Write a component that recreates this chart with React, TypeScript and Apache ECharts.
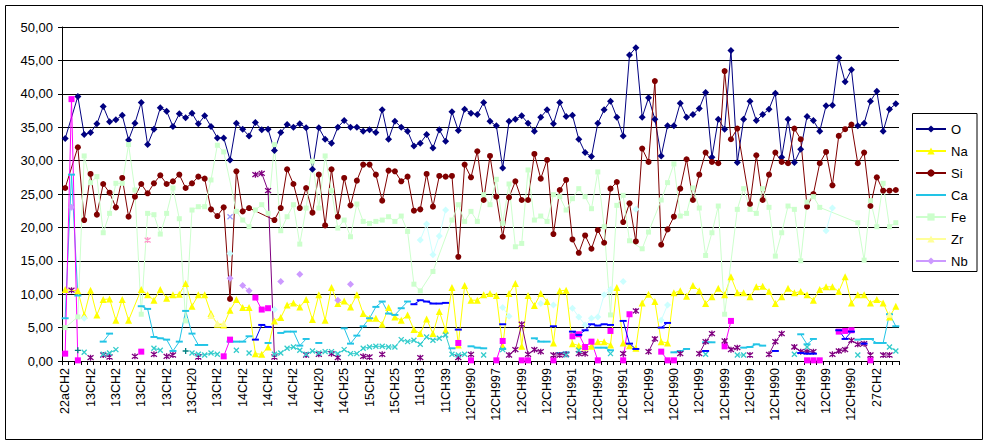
import { useEffect, useRef } from 'react';
import * as echarts from 'echarts';

const tickLabels = [
  '22aCH2', '13CH2', '13CH2', '13CH2', '13CH2', '13CH20', '13CH2', '14CH2', '14CH2', '14CH2', '14CH20',
  '14CH25', '15CH2', '15CH25', '11CH3', '11CH39', '12CH990', '12CH997', '12CH99', '12CH99', '12CH991',
  '12CH997', '12CH991', '12CH99', '12CH990', '12CH99', '12CH999', '12CH99', '12CH990', '12CH99', '12CH99',
  '12CH990', '27CH2',
];
const categories: string[] = tickLabels.flatMap((l) => [l, l, l, l]);

const yTicks = [0, 5, 10, 15, 20, 25, 30, 35, 40, 45, 50];

const oValues = [
  33.3, null, 39.6, 33.9, 34.2, 35.5, 38.1, 35.8, 36.1, 36.8,
  33.1, 35.6, 38.7, 32.4, 34.7, 37.9, 37.4, 35.1, 37.0, 36.4,
  37.1, 35.5, 36.7, 35.1, 33.4, 33.4, 30.1, 35.6, 34.7, 33.7,
  35.7, 34.6, 34.7, 31.5, 34.2, 35.4, 35.0, 35.5, 34.9, 28.7,
  34.9, 33.2, 32.6, 35.0, 36.0, 35.0, 35.0, 34.4, 34.6, 34.2,
  37.6, 33.2, 35.9, 35.0, 34.4, 32.2, 32.6, 33.9, 31.9, 34.6,
  32.9, 37.3, 34.5, 37.7, 37.1, 36.9, 38.7, 35.9, 35.2, 28.9,
  35.9, 36.2, 36.7, 35.6, 34.4, 36.5, 37.6, 35.5, 38.7, 36.6,
  36.8, 33.2, 31.2, 30.6, 35.6, 37.6, 38.9, 36.5, 33.7, 45.8,
  46.9, 36.5, 39.4, 36.2, 30.7, 35.2, 35.2, 38.6, 36.5, 36.9,
  37.8, 40.2, 30.5, 36.2, 34.7, 46.5, 29.7, 36.2, 38.9, 36.0,
  36.9, 37.7, 40.1, 30.5, 36.2, 29.7, 31.7, 36.6, 36.0, 34.4,
  38.2, 38.3, 45.4, 41.8, 43.6, 35.2, 35.6, 38.9, 40.4, 34.4,
  37.7, 38.5,
];

const naValues = [
  10.7, null, 10.5, 6.9, 10.6, 6.9, 9.2, 9.3, 6.1, 9.2,
  6.1, null, 10.7, 9.9, 9.1, 10.7, 9.4, 9.9, 10.0, 11.6,
  8.2, 9.9, 9.9, 7.1, 5.5, 5.4, 7.6, 9.2, 8.0, 8.0,
  1.1, 1.0, 2.1, 6.0, 6.5, 8.4, 8.7, 8.1, 9.2, 6.2,
  9.9, 6.1, 11.0, 8.6, 9.0, 8.1, 9.9, 7.1, 6.4, 6.4,
  5.5, 8.0, 6.6, 6.1, 6.9, 4.7, 4.1, 6.3, 4.1, 7.4,
  4.6, 11.0, 2.4, 11.3, 9.1, 9.1, 9.9, 10.1, 9.8, 2.2,
  10.1, 11.6, 2.2, 9.8, 8.3, 10.1, 8.9, 2.7, 10.5, 10.6,
  2.6, 2.3, 2.1, 2.2, 2.9, 2.9, 2.4, 11.0, 2.7, 2.3,
  1.9, 8.7, 10.0, 8.9, 2.9, 2.7, 10.2, 10.5, 9.7, 11.3,
  10.5, 8.6, 9.6, 10.9, 9.9, 12.6, 10.2, 10.2, 9.6, 11.1,
  11.2, 10.4, 8.6, 9.6, 10.9, 10.2, 10.4, 9.9, 9.1, 10.7,
  11.1, 11.1, 10.4, 12.6, 8.7, 9.9, 9.9, 8.7, 9.2, 8.7,
  6.6, 8.2,
];

const siValues = [
  25.9, null, 32.0, 21.1, 28.0, 21.9, 26.5, 25.2, 23.0, 27.4,
  21.6, 24.6, 26.5, 25.1, 26.6, 27.8, 26.5, 26.9, 27.9, 25.9,
  26.6, 27.6, 27.3, 22.7, 21.7, 23.0, 9.3, 28.4, 22.4, 22.9,
  null, null, null, 21.1, 22.9, 28.7, 26.5, 22.9, 25.9, 22.2,
  27.9, 20.3, 28.7, 21.6, 27.4, 23.3, 27.0, 29.4, 29.4, 27.9,
  24.0, 28.5, 28.4, 26.9, 27.6, 22.5, 22.7, 28.0, 23.1, 27.7,
  27.6, 27.7, 15.6, 29.4, 27.5, 31.4, 24.1, 30.7, 24.6, 18.6,
  24.5, 26.9, 24.1, 24.1, 31.0, 27.3, 30.1, 19.0, 25.6, 27.1,
  18.2, 16.2, 18.8, 16.8, 19.6, 17.7, 25.8, 26.8, 20.8, 23.6,
  17.9, 31.8, 29.8, 41.9, 17.4, 19.7, 21.6, 25.8, 30.2, 24.1,
  27.9, 31.2, 29.8, 29.6, 43.4, 33.2, 34.8, null, 23.5, 30.8,
  24.1, 27.9, 31.2, 29.8, 29.6, 34.8, 33.2, 23.1, 25.0, 29.6,
  31.3, 26.3, 33.7, 34.7, 35.4, 29.6, 31.2, 23.2, 27.5, 25.5,
  25.5, 25.6,
];

const feValues = [
  5.0, null, 6.6, 30.7, 26.7, 27.6, 19.2, 22.1, 26.6, 26.6,
  32.4, 25.6, 7.0, 22.1, 21.9, 19.0, 22.1, 25.9, 21.3, 6.0,
  22.6, 23.1, 23.1, 27.1, 32.3, 31.3, null, 22.4, 21.1, 20.1,
  22.6, 23.4, 22.1, 32.4, 19.5, 21.6, 23.4, 17.5, 22.9, 29.9,
  22.9, 30.7, 25.5, 19.9, 21.1, 18.6, 23.5, 20.9, 20.6, 20.9,
  21.1, 21.6, 20.9, 21.7, 19.4, 11.5, 10.5, null, 13.4, null,
  null, 21.1, 23.4, 20.9, 22.4, 20.9, 24.9, 23.4, 27.2, 20.6,
  26.5, 17.1, 17.6, 28.6, 21.1, 21.7, 20.9, 24.9, 24.6, 22.6,
  24.3, 25.8, 24.6, 22.8, 28.3, 20.1, 6.9, 23.3, 24.8, 18.0,
  null, 16.8, 19.3, null, 24.1, 26.7, 29.5, 21.7, 22.1, 25.9,
  22.9, 15.8, 19.2, 23.2, 7.0, null, 22.7, 25.8, 22.7, 22.1,
  25.8, 23.0, 15.7, 19.2, 23.2, 22.7, 15.0, 23.8, 24.6, 23.0,
  null, null, null, null, null, 20.7, 15.1, 24.0, 20.1, 26.6,
  20.1, 20.7,
];

// sparse series: [category index, value]
const caPoints: [number, number][] = [
  [0, 6.4], [1, 27.9], [2, 9.8], [6, 2.9], [7, 4.1],
  [12, 8.2], [13, 7.8], [14, 3.6], [15, 3.4], [16, 3.2], [17, 1.5], [18, 2.9], [19, 7.5], [20, 4.1], [21, 2.4], [22, 2.4],
  [26, 2.9], [27, 2.9], [28, 2.9], [29, 3.7], [32, 2.7], [34, 4.2], [35, 4.4], [36, 4.4], [37, 2.3], [38, 3.3], [40, 2.7],
  [44, 4.9], [45, 2.6], [46, 3.8], [47, 5.2], [48, 6.4], [49, 8.1], [50, 8.9], [51, 7.1], [52, 6.9], [53, 7.9], [54, 8.9],
  [61, 1.9], [64, 2.2], [65, 2.0], [66, 1.9], [69, 1.8], [74, 3.4], [75, 2.9], [76, 2.9],
  [78, 1.2], [79, 1.3], [84, 2.0], [85, 2.0], [86, 1.6], [96, 1.3], [97, 1.5], [98, 1.8], [101, 2.8], [102, 2.8],
  [107, 2.0], [108, 2.1], [109, 2.5], [110, 2.3], [116, 4.0], [117, 2.5], [118, 3.3],
  [125, 3.2], [126, 3.3], [127, 3.3], [128, 2.7], [129, 2.7], [130, 7.0], [131, 5.2],
];
const zrPoints: [number, number][] = [[23, 6.8], [24, 5.6], [25, 5.6], [130, 7.0]];
const nbPoints: [number, number][] = [[1, 23.0], [26, 12.4], [28, 11.3], [29, 10.5], [34, 11.9], [37, 13.0], [43, 9.1], [45, 11.5]];
const magentaPoints: [number, number][] = [
  [0, 1.1], [1, 39.2], [2, 0.1], [12, 1.4], [25, 0.7], [26, 3.2], [30, 9.5], [31, 7.7], [32, 7.9],
  [62, 2.7], [64, 0.1], [68, 0.1], [69, 3.0], [72, 0.1], [73, 0.1], [77, 0.1], [80, 3.7], [81, 4.0], [82, 2.1], [83, 2.9],
  [84, 0.1], [86, 4.5], [88, 0.1], [89, 7.0], [94, 1.4], [95, 0.1], [96, 0.1], [104, 2.2], [105, 6.0],
  [117, 0.1], [118, 0.1], [119, 0.1], [122, 4.4], [123, 4.5], [124, 4.6], [127, 0.1],
];
const purplePoints: [number, number][] = [
  [1, 10.6], [4, 0.5], [6, 0.9], [7, 0.6], [11, 0.7], [14, 1.0], [16, 0.7], [17, 0.9], [21, 0.6],
  [30, 27.9], [31, 28.1], [32, 25.5], [33, 0.6], [38, 0.9], [40, 1.0], [42, 1.1], [43, 0.5], [47, 0.7], [48, 0.6], [50, 1.0],
  [56, 0.5], [62, 0.5], [64, 1.0], [70, 0.9], [71, 1.7], [72, 5.5], [73, 1.0], [74, 1.7], [75, 1.4], [77, 0.9], [78, 0.9],
  [79, 1.0], [81, 1.1], [82, 1.1], [88, 1.1], [90, 7.5], [92, 1.4], [93, 3.3], [97, 1.1], [100, 1.1], [101, 2.9], [102, 4.1],
  [104, 3.0], [105, 1.7], [106, 2.0], [108, 0.9], [111, 1.0], [112, 2.9], [113, 4.1], [115, 2.1], [116, 1.4], [117, 1.4],
  [118, 1.4], [121, 1.0], [122, 1.5], [123, 1.7], [124, 3.1], [125, 2.5], [126, 2.6], [127, 0.9], [129, 0.9], [130, 0.9],
];
const cyanXPoints: [number, number][] = [
  [3, 1.3], [6, 1.0], [7, 1.2], [8, 1.7], [14, 1.9], [15, 1.6], [20, 1.2], [21, 1.0], [22, 0.9], [23, 1.2], [24, 1.0],
  [27, 1.6], [29, 1.2], [33, 1.0], [34, 1.2], [35, 1.9], [36, 2.1], [37, 1.6], [38, 1.0], [39, 1.5], [40, 1.2], [41, 1.4],
  [42, 1.4], [43, 1.1], [44, 1.7], [45, 1.1], [46, 1.1], [47, 1.9], [48, 2.1], [49, 2.2], [50, 2.2], [51, 2.1], [52, 2.1],
  [53, 3.2], [54, 2.9], [55, 3.1], [56, 2.5], [57, 3.6], [58, 3.1], [59, 3.4], [60, 3.9], [61, 1.0], [62, 0.9], [63, 1.0],
  [66, 0.9], [69, 1.7], [79, 0.9], [81, 1.6], [86, 1.1], [101, 1.0], [106, 0.9], [107, 0.9], [115, 1.0], [117, 2.1],
  [125, 0.9], [130, 2.1], [131, 1.5],
];
const bluePoints: [number, number][] = [
  [30, 3.2], [31, 5.4], [32, 5.1], [55, 8.5], [56, 9.1], [57, 8.9], [58, 8.6], [59, 8.6], [60, 8.7], [62, 4.7], [69, 5.5],
  [77, 5.2], [80, 4.4], [81, 3.9], [82, 4.6], [83, 5.5], [84, 5.3], [85, 5.5], [86, 5.4], [88, 6.0], [89, 2.6], [90, 1.8],
  [94, 5.0], [95, 5.7], [101, 1.5], [112, 1.5], [116, 1.2], [117, 1.1], [118, 1.1], [122, 4.6], [123, 3.3], [124, 4.4], [126, 2.6],
];
const lightCyanPoints: [number, number][] = [
  [3, 6.4], [26, 16.1], [33, 7.7], [56, 18.1], [57, 20.5], [58, 15.9], [59, 18.7], [60, 22.6], [69, 8.0], [70, 6.7],
  [75, 8.6], [77, 8.4], [80, 7.9], [81, 6.6], [82, 5.4], [83, 6.4], [84, 6.6], [85, 9.9], [86, 10.7], [88, 11.9],
  [90, 22.7], [94, 6.1], [95, 8.4], [120, 19.5], [121, 22.9],
];
const tealPlusPoints: [number, number][] = [[2, 1.6], [19, 1.5]];
const pinkStarPoints: [number, number][] = [[13, 18.1]];
const lavenderXPoints: [number, number][] = [[26, 21.6]];

const legendNames = ['O', 'Na', 'Si', 'Ca', 'Fe', 'Zr', 'Nb'];

const FONT = 'Arial, "Liberation Sans", sans-serif';
const STAR = 'path://M5,0L5,10M1,1L9,9M9,1L1,9';
const CROSS = 'path://M0,0L10,10M10,0L0,10';
const PLUS = 'path://M5,0L5,10M0,5L10,5';
// short horizontal dash inside a square box (the leading moves keep the box square)
const DASH = 'path://M0,0M10,10M0,3.6H10V6.4H0Z';

function fill(points: [number, number][]): (number | null)[] {
  const arr: (number | null)[] = categories.map(() => null);
  points.forEach(([i, v]) => {
    arr[i] = v;
  });
  return arr;
}

function mk(
  name: string,
  data: (number | null)[],
  color: string,
  symbol: string,
  size: number,
  connect: boolean,
  stroke = false,
) {
  return {
    name,
    type: 'line',
    data,
    symbol,
    symbolSize: size,
    showSymbol: true,
    showAllSymbol: true,
    connectNulls: connect,
    lineStyle: { color, width: 1 },
    itemStyle: stroke
      ? { color, borderColor: color, borderWidth: 1.3 }
      : { color, borderColor: color, borderWidth: 0 },
    emphasis: { disabled: true },
  };
}

export default function App() {
  const ref = useRef<HTMLDivElement>(null);
  useEffect(() => {
    if (!ref.current) return;
    const chart = echarts.init(ref.current, undefined, { renderer: 'svg' });
    chart.setOption({
      animation: false,
      backgroundColor: '#ffffff',
      grid: { left: 62, top: 27, width: 837, height: 334, containLabel: false },
      xAxis: {
        type: 'category',
        data: categories,
        boundaryGap: true,
        axisLine: { lineStyle: { color: '#000', width: 1 } },
        axisTick: { show: true, interval: 0, length: 4, lineStyle: { color: '#000' } },
        axisLabel: {
          interval: 3,
          rotate: 90,
          margin: 7,
          fontSize: 12.5,
          color: '#000',
          fontFamily: FONT,
        },
        splitLine: { show: false },
      },
      yAxis: {
        type: 'value',
        min: yTicks[0],
        max: yTicks[yTicks.length - 1],
        interval: 5,
        axisLine: { show: true, lineStyle: { color: '#000', width: 1 } },
        axisTick: { show: true, length: 4, lineStyle: { color: '#000' } },
        axisLabel: {
          margin: 9,
          fontSize: 13,
          color: '#000',
          fontFamily: FONT,
          formatter: (v: number) => v.toFixed(2).replace('.', ','),
        },
        splitLine: { show: true, lineStyle: { color: '#000', width: 1 } },
      },
      legend: {
        data: legendNames,
        orient: 'vertical',
        left: 915,
        top: 122,
        itemWidth: 30,
        itemHeight: 9,
        itemGap: 8,
        padding: 0,
        selectedMode: false,
        textStyle: { fontSize: 13, color: '#000', fontFamily: FONT, lineHeight: 14 },
      },
      graphic: [
        {
          type: 'rect',
          shape: { x: 5.5, y: 5.5, width: 977, height: 434 },
          style: { fill: 'none', stroke: '#000', lineWidth: 1 },
          silent: true,
        },
        {
          type: 'rect',
          shape: { x: 912.5, y: 113.5, width: 64.5, height: 158 },
          style: { fill: 'none', stroke: '#000', lineWidth: 1 },
          silent: true,
        },
      ],
      series: [
        mk('O', oValues, '#000080', 'diamond', 7, true),
        mk('Na', naValues, '#FFFF00', 'triangle', 7, true),
        mk('Si', siValues, '#800000', 'circle', 6, true),
        mk('Ca', fill(caPoints), '#22C4E6', DASH, 7, false),
        mk('Fe', feValues, '#CCFFCC', 'rect', 5, true),
        mk('Zr', fill(zrPoints), '#FFFF99', 'triangle', 7, false),
        mk('Nb', fill(nbPoints), '#CC99FF', 'diamond', 7, false),
        mk('s8', fill(magentaPoints), '#FF00FF', 'rect', 6, false),
        mk('s9', fill(purplePoints), '#800080', STAR, 6, false, true),
        mk('s10', fill(cyanXPoints), '#33CCCC', CROSS, 5, false, true),
        mk('s11', fill(bluePoints), '#0000FF', DASH, 7, false),
        mk('s12', fill(lightCyanPoints), '#CCFFFF', 'diamond', 7, false),
        mk('s13', fill(tealPlusPoints), '#008080', PLUS, 6, false, true),
        mk('s14', fill(pinkStarPoints), '#FF99CC', STAR, 6, false, true),
        mk('s15', fill(lavenderXPoints), '#9999FF', CROSS, 5, false, true),
      ],
    });
    return () => chart.dispose();
  }, []);
  return (
    <div
      ref={ref}
      style={{ position: 'fixed', left: 0, top: 0, width: 989, height: 446, background: '#fff' }}
    />
  );
}
